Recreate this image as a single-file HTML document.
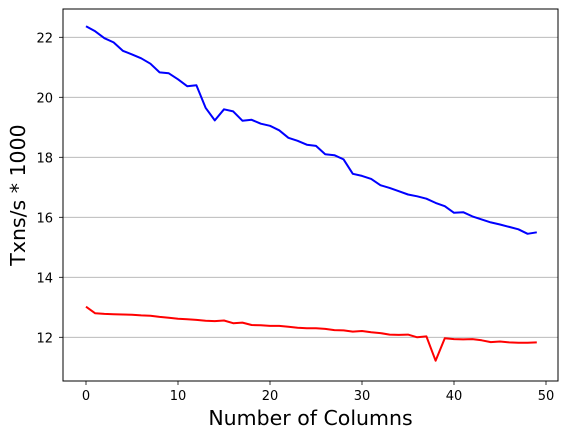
<!DOCTYPE html>
<html><head><meta charset="utf-8"><style>
body{margin:0;background:#fff;font-family:"Liberation Sans","DejaVu Sans",sans-serif;}
svg text{font-family:"DejaVu Sans","Liberation Sans",sans-serif;}
</style></head><body>
<svg id="chart" width="569" height="438" xmlns="http://www.w3.org/2000/svg"></svg>
<script>
const xTicks=[0,10,20,30,40,50];
const yTicks=[12,14,16,18,20,22];
const blueSeries=[22.37,22.2,21.97,21.83,21.55,21.43,21.3,21.12,20.83,20.8,20.6,20.37,20.4,19.65,19.23,19.6,19.53,19.22,19.25,19.12,19.05,18.9,18.65,18.55,18.42,18.38,18.1,18.07,17.93,17.45,17.38,17.28,17.07,16.98,16.87,16.76,16.7,16.62,16.48,16.37,16.15,16.17,16.03,15.93,15.83,15.76,15.68,15.6,15.45,15.5];
const redSeries=[13.02,12.8,12.78,12.77,12.76,12.75,12.73,12.72,12.68,12.65,12.62,12.6,12.58,12.55,12.54,12.56,12.47,12.49,12.41,12.4,12.38,12.38,12.35,12.32,12.3,12.3,12.28,12.24,12.23,12.19,12.21,12.17,12.14,12.09,12.08,12.09,12.0,12.03,11.22,11.97,11.94,11.93,11.94,11.9,11.84,11.86,11.83,11.82,11.82,11.83];
const L=63,R=558,T=9,B=381;
const xs=v=>86+v*9.2;
const ys=v=>337.3-(v-12)*30;
const NS='http://www.w3.org/2000/svg';
const svg=document.getElementById('chart');
function mk(tag,attrs,parent){const e=document.createElementNS(NS,tag);for(const k in attrs)e.setAttribute(k,attrs[k]);(parent||svg).appendChild(e);return e;}
yTicks.forEach(t=>{
  const g=mk('line',{x1:L,x2:R,y1:ys(t),y2:ys(t),stroke:'#b0b0b0','stroke-width':0.8});
  
  
  const tk=mk('line',{x1:L-4,x2:L,y1:ys(t),y2:ys(t),stroke:'#000','stroke-width':0.8});
  
  
  const tx=mk('text',{x:L-10,y:ys(t)+5,'text-anchor':'end','font-size':'13'});
  tx.textContent=t;
  
  
});
xTicks.forEach(t=>{
  const tk=mk('line',{x1:xs(t),x2:xs(t),y1:B,y2:B+4,stroke:'#000','stroke-width':0.8});
  
  
  const tx=mk('text',{x:xs(t),y:B+19,'text-anchor':'middle','font-size':'13'});
  tx.textContent=t;
  
  
});
function line(data,color,name){
  const p=mk('polyline',{points:data.map((v,i)=>xs(i)+','+ys(v)).join(' '),fill:'none',stroke:color,'stroke-width':2,'stroke-linejoin':'round'});
  
  
}
line(blueSeries,'#0000ff','blue-series-line');
line(redSeries,'#ff0000','red-series-line');
const fr=mk('rect',{x:L,y:T,width:R-L,height:B-T,fill:'none',stroke:'#000','stroke-width':1});


const xt=mk('text',{x:(L+R)/2,y:425,'text-anchor':'middle','font-size':'20.5'});
xt.textContent='Number of Columns';


const yt=mk('text',{x:0,y:0,'text-anchor':'middle','font-size':'20.5',transform:'translate(25,'+((T+B)/2)+') rotate(-90)'});
yt.textContent='Txns/s * 1000';


</script>
</body></html>
